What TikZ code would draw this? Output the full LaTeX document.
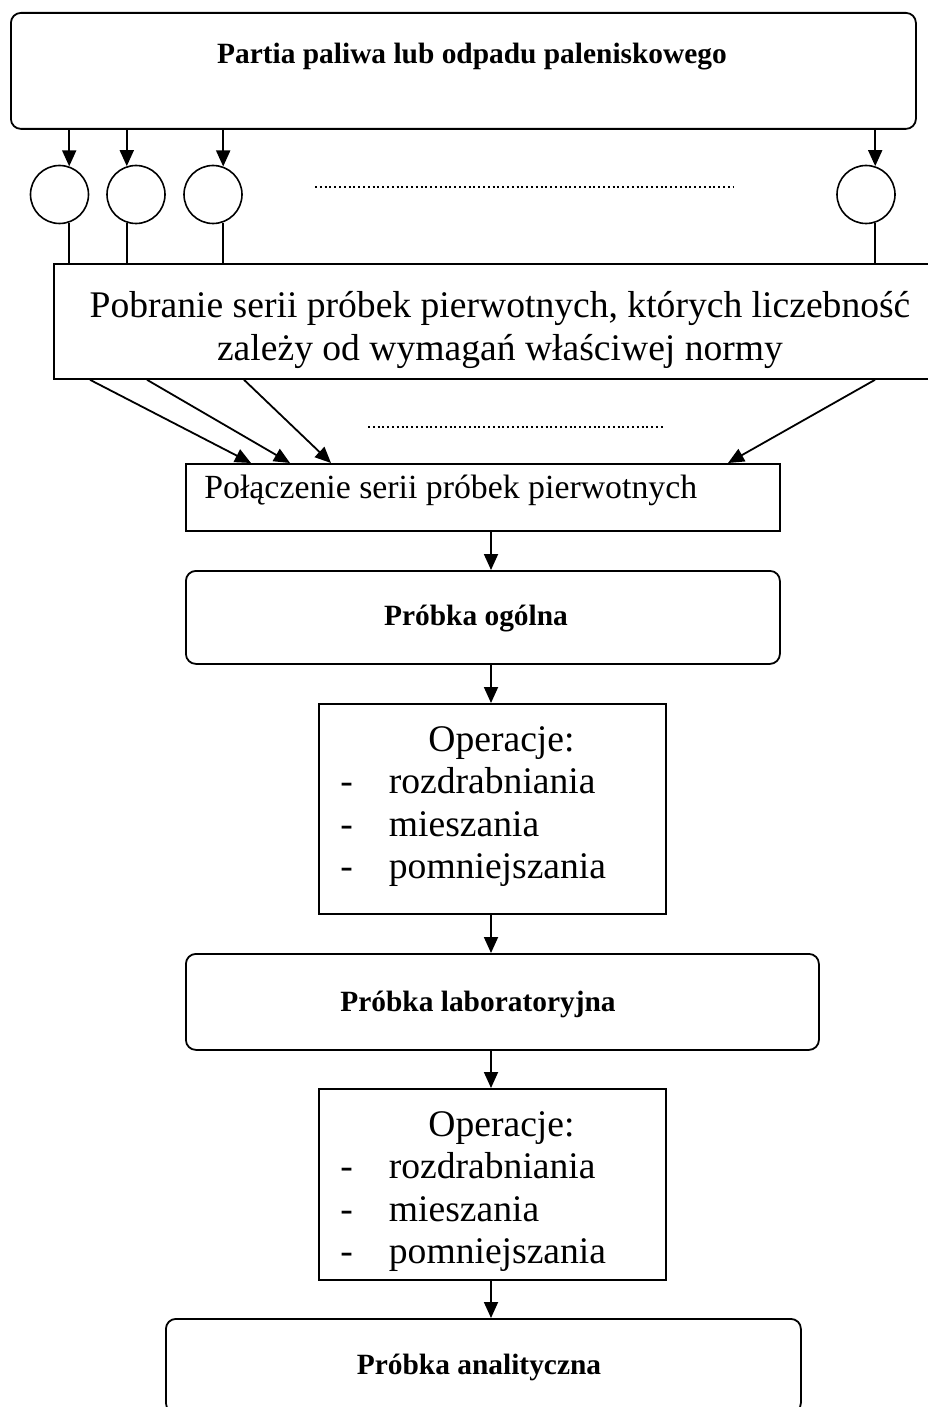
\documentclass[tikz,border=0pt]{standalone}
\usepackage{fontspec}
\setmainfont{Liberation Serif}
\usetikzlibrary{arrows.meta}

\tikzset{
    box/.style = {draw, line width = 0.9pt, anchor = north west, inner sep = 0pt},
    rbox/.style = {box, rounded corners = 5pt},
    probka/.style = {circle, draw, line width = 0.8pt, minimum size = 29pt, inner sep = 0pt},
    arr/.style = {line width = 0.9pt, -{Triangle[length = 8pt, width = 7pt]}},
    dots/.style = {line width = 1.1pt, dash pattern = on 1pt off 1.4pt},
    bold/.style = {font = \fontsize{14.7}{17}\selectfont\bfseries},
    big/.style = {font = \fontsize{18.8}{21.25}\selectfont},
    optxt/.style = {big, anchor = base west, inner sep = 0pt}
}

\begin{document}
\begin{tikzpicture}[x = 0.5pt, y = -0.5pt]
    \useasboundingbox (0, 0) rectangle (927, 1407);

    %% top: batch and increments
    \node[rbox, minimum width = 452.5pt, minimum height = 58pt] (partia) at (10, 12) {};
    \node[bold] (partiaTxt) at (472, 57) {Partia paliwa lub odpadu paleniskowego};
    \node[box, minimum width = 447pt, minimum height = 57.5pt] (pobranie) at (53, 263) {};
    \node[big, align = center] (pobranieTxt) at (500, 330)
        {Pobranie serii próbek pierwotnych, których liczebność\\
         zależy od wymagań właściwej normy};

    \foreach \i/\cx/\ang in {1/59.5/71, 2/136/108, 3/213/70, 4/866/72} {
        \node[probka] (c\i) at (\cx, 194.5) {};
        \draw[arr] (partia.south -| c\i.\ang) -- (c\i.\ang);
        \draw[line width = 0.8pt] (c\i.-\ang) -- (pobranie.north -| c\i.-\ang);
    }
    \draw[dots] (315, 187) -- (733, 187);

    %% merging the increments
    \node[box, minimum width = 297pt, minimum height = 33.5pt] (polaczenie) at (185, 463) {};
    \node[anchor = west, inner sep = 0pt, font = \fontsize{16.9}{20}\selectfont]
        (polaczenieTxt) at (204, 490) {Połączenie serii próbek pierwotnych};

    \foreach \i/\sx/\ex in {1/90/251, 2/147/290, 3/244/331, 4/875/728} {
        \coordinate (s\i) at (\sx, 0);
        \coordinate (e\i) at (\ex, 0);
        \draw[arr] (pobranie.south -| s\i) -- (polaczenie.north -| e\i);
    }
    \draw[dots] (368, 427) -- (665, 427);

    %% chain of samples
    \coordinate (mid) at (491, 0);
    \node[rbox, minimum width = 297pt, minimum height = 46.5pt] (ogolna) at (185, 570) {};
    \node[bold] (ogolnaTxt) at (476, 619) {Próbka ogólna};

    \node[box, minimum width = 173.5pt, minimum height = 105pt] (oper1) at (318, 703) {};
    \node[optxt] (oper1Txt) at (340, 751)
        {\begin{tabular}[t]{@{}l@{\hspace{18pt}}l@{}}
            \multicolumn{2}{@{\hspace{44pt}}l@{}}{Operacje:}\\
            - & rozdrabniania\\
            - & mieszania\\
            - & pomniejszania
        \end{tabular}};

    \node[rbox, minimum width = 316.5pt, minimum height = 48pt] (lab) at (185, 953) {};
    \node[bold] (labTxt) at (478, 1004) {Próbka laboratoryjna};

    \node[box, minimum width = 173.5pt, minimum height = 95.5pt] (oper2) at (318, 1088) {};
    \node[optxt] (oper2Txt) at (340, 1136)
        {\begin{tabular}[t]{@{}l@{\hspace{18pt}}l@{}}
            \multicolumn{2}{@{\hspace{44pt}}l@{}}{Operacje:}\\
            - & rozdrabniania\\
            - & mieszania\\
            - & pomniejszania
        \end{tabular}};

    \node[rbox, minimum width = 317.5pt, minimum height = 47pt] (analityczna) at (165, 1318) {};
    \node[bold] (analitycznaTxt) at (479, 1367) {Próbka analityczna};

    \draw[arr] (polaczenie.south -| mid) -- (ogolna.north -| mid);
    \draw[arr] (ogolna.south -| mid) -- (oper1.north -| mid);
    \draw[arr] (oper1.south -| mid) -- (lab.north -| mid);
    \draw[arr] (lab.south -| mid) -- (oper2.north -| mid);
    \draw[arr] (oper2.south -| mid) -- (analityczna.north -| mid);
\end{tikzpicture}
\end{document}
